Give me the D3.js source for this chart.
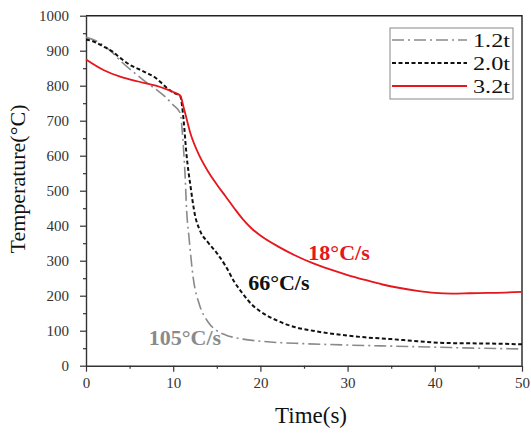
<!DOCTYPE html>
<html>
<head>
<meta charset="utf-8">
<script src="https://cdn.jsdelivr.net/npm/d3@7"></script>
<style>
  body { margin: 0; background: #fff; }
  svg { display: block; font-family: "Liberation Serif", "Times New Roman", serif; }
</style>
</head>
<body>
<svg id="chart"></svg>
<script>
'use strict'

// series (time in s, temperature in °C)
const seriesNames = ['1.2t', '2.0t', '3.2t']

const time12 = [0, 1, 2, 3, 4, 5, 6, 7, 8, 9, 10, 10.8, 11.1, 11.35, 11.55, 11.8, 12.3, 13, 14, 15, 16, 18, 20, 25, 30, 35, 40, 45, 50]
const temp12 = [938, 930, 915, 895, 870, 848, 828, 808, 790, 770, 745, 722, 650, 550, 440, 370, 250, 175, 125, 100, 88, 76, 70, 63, 59, 56, 53, 50, 48]

const time20 = [0, 1, 2, 3, 4, 5, 6, 7, 8, 9, 10, 10.8, 11.2, 11.5, 12, 12.5, 13, 14, 15, 16, 17, 18, 19, 20, 22, 24, 26, 28, 30, 32, 35, 38, 41, 44, 47, 50]
const temp20 = [932, 925, 912, 898, 878, 860, 848, 836, 822, 800, 780, 770, 700, 610, 510, 430, 390, 352, 322, 285, 240, 205, 175, 155, 128, 110, 100, 92, 86, 81, 76, 70, 65, 64, 63, 61]

const time32 = [0, 2, 4, 6, 8, 10, 10.8, 11.2, 12, 13, 14, 15, 16, 17, 18, 19, 20, 22, 24, 26, 28, 30, 32, 34, 36, 38, 40, 42, 44, 46, 48, 50]
const temp32 = [875, 845, 825, 812, 800, 782, 772, 738, 662, 600, 555, 518, 484, 450, 418, 392, 372, 341, 315, 293, 275, 259, 245, 232, 222, 214, 208, 206, 207, 208, 209, 211]

// cooling-rate labels and where they sit (time, temperature of baseline start)
const rateLabels = ['105°C/s', '66°C/s', '18°C/s']
const rateTime = [7.2, 18.6, 25.5]
const rateTemp = [59, 216, 302]

const xTicks = [0, 10, 20, 30, 40, 50]
const yTicks = [0, 100, 200, 300, 400, 500, 600, 700, 800, 900, 1000]

const width = 531, height = 436
const margins = {top: 15.7, right: 9, bottom: 70.3, left: 86}
const chartWidth = width - margins.left - margins.right
const chartHeight = height - margins.top - margins.bottom

const colors = ['#8a8a8a', '#111', '#e5161c']
const dashes = ['12,4,2,4', '4,2.5', null]
const widths = [1.6, 2, 1.8]
const font = '"Liberation Serif", "Times New Roman", serif'

const svg = d3.select('#chart').attr('width', width).attr('height', height)
const g = svg.append('g').attr('transform', 'translate(' + margins.left + ',' + margins.top + ')')

const x = d3.scaleLinear().domain([0, 50]).range([0, chartWidth])
const y = d3.scaleLinear().domain([0, 1000]).range([chartHeight, 0])

// minor ticks
g.append('g').attr('transform', 'translate(0,' + chartHeight + ')')
  .call(d3.axisBottom(x).tickValues(d3.range(5, 50, 10)).tickSize(3).tickFormat(''))
  .call(a => a.select('.domain').remove())
g.append('g')
  .call(d3.axisLeft(y).tickValues(d3.range(50, 1000, 100)).tickSize(3).tickFormat(''))
  .call(a => a.select('.domain').remove())

// major axes
const xAxis = g.append('g').attr('transform', 'translate(0,' + chartHeight + ')')
  .call(d3.axisBottom(x).tickValues(xTicks).tickFormat(d3.format('d')).tickSize(6).tickPadding(6).tickSizeOuter(0))
const yAxis = g.append('g')
  .call(d3.axisLeft(y).tickValues(yTicks).tickFormat(d3.format('d')).tickSize(6).tickPadding(11).tickSizeOuter(0))
g.selectAll('g').attr('font-family', font).attr('font-size', 15)
g.selectAll('.tick text').attr('fill', '#333').style('font-family', font)
g.selectAll('.tick line').attr('stroke', '#333').attr('stroke-width', 1.2)
g.selectAll('.domain').attr('stroke', '#333').attr('stroke-width', 1.4)

// top and right frame
g.append('path')
  .attr('d', 'M0,0H' + chartWidth + 'V' + chartHeight)
  .attr('fill', 'none').attr('stroke', '#222').attr('stroke-width', 1.4)

const line = d3.line().curve(d3.curveMonotoneX).x(d => x(d[0])).y(d => y(d[1]))
const series = [d3.zip(time12, temp12), d3.zip(time20, temp20), d3.zip(time32, temp32)]

series.forEach((s, i) => {
  g.append('path')
    .datum(s)
    .attr('d', line)
    .attr('fill', 'none')
    .attr('stroke', colors[i])
    .attr('stroke-width', widths[i])
    .attr('stroke-dasharray', dashes[i])
})

// rate annotations
rateLabels.forEach((t, i) => {
  g.append('text')
    .attr('x', x(rateTime[i]))
    .attr('y', y(rateTemp[i]))
    .attr('font-size', 22).attr('font-weight', 'bold')
    .attr('fill', colors[i])
    .text(t)
})

// legend
const legend = svg.append('g').attr('transform', 'translate(390,28)')
legend.append('rect').attr('width', 123).attr('height', 71)
  .attr('fill', '#fff').attr('stroke', '#888').attr('stroke-width', 1)
seriesNames.forEach((n, i) => {
  const ly = 12 + i * 23
  legend.append('line')
    .attr('x1', 2).attr('x2', 77).attr('y1', ly).attr('y2', ly)
    .attr('stroke', colors[i]).attr('stroke-width', widths[i])
    .attr('stroke-dasharray', dashes[i])
  legend.append('text')
    .attr('x', 83).attr('y', ly + 6.5)
    .attr('font-size', 19).attr('fill', '#111')
    .attr('textLength', 37).attr('lengthAdjust', 'spacingAndGlyphs')
    .text(n)
})

// axis labels
svg.append('text')
  .attr('x', 311).attr('y', 423)
  .attr('text-anchor', 'middle').attr('font-size', 23).attr('fill', '#111')
  .text('Time(s)')
svg.append('text')
  .attr('transform', 'translate(25,179) rotate(-90)')
  .attr('text-anchor', 'middle').attr('font-size', 22).attr('fill', '#111')
  .text('Temperature(°C)')
</script>
</body>
</html>
